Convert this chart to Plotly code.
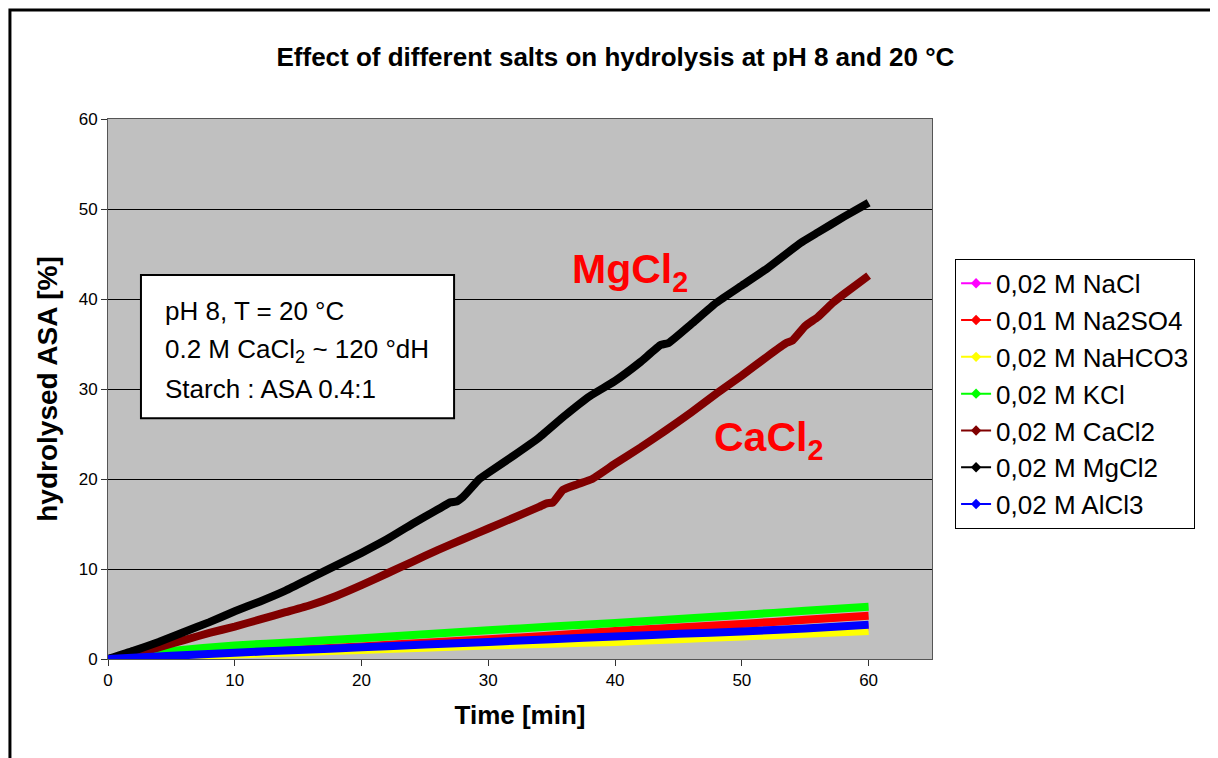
import plotly.graph_objects as go

FONT = "Liberation Sans, Arial, sans-serif"

# low series, read every 5 min
t_low = [0, 5, 10, 15, 20, 25, 30, 35, 40, 45, 50, 55, 60]
nacl = [0, 0.35, 0.7, 1.0, 1.3, 1.6, 1.9, 2.2, 2.5, 2.8, 3.0, 3.3, 3.6]
na2so4 = [0, 0.35, 0.7, 1.05, 1.4, 1.8, 2.2, 2.6, 3.1, 3.5, 3.9, 4.35, 4.8]
nahco3 = [0, 0.25, 0.5, 0.75, 1.0, 1.25, 1.5, 1.7, 1.9, 2.2, 2.5, 2.8, 3.1]
kcl = [0, 0.9, 1.5, 1.9, 2.3, 2.75, 3.2, 3.6, 4.0, 4.45, 4.9, 5.35, 5.8]
alcl3 = [0, 0.35, 0.7, 1.0, 1.3, 1.6, 1.9, 2.2, 2.5, 2.8, 3.05, 3.4, 3.8]

t_ca = [0, 2, 4, 6, 8, 10, 12, 14, 16, 18, 20, 22, 24, 26, 28, 30, 32, 34,
        34.6, 35.1, 35.9, 37, 38.2, 40, 42, 44, 46, 48, 50, 52, 53.5, 54,
        55, 56, 57.2, 58, 60]
cacl2 = [0, 0.5, 1.3, 2.1, 2.9, 3.6, 4.4, 5.2, 6.0, 7.0, 8.2, 9.5, 10.8, 12.1,
         13.3, 14.5, 15.7, 16.9, 17.3, 17.4, 18.8, 19.4, 20.0, 21.7, 23.5,
         25.4, 27.4, 29.5, 31.5, 33.6, 35.1, 35.4, 37.0, 38.0, 39.6, 40.5, 42.6]

t_mg = [0, 2, 4, 6, 8, 10, 12, 14, 16, 18, 20, 22, 24, 26, 27, 27.5, 28,
        29.3, 30, 32, 34, 36, 38, 40, 42, 43.6, 44.2, 46, 48, 50, 52, 54.6,
        56, 58, 60]
mgcl2 = [0, 0.9, 1.9, 3.0, 4.1, 5.3, 6.4, 7.6, 9.0, 10.4, 11.8, 13.3, 15.0,
         16.6, 17.4, 17.5, 18.0, 20.0, 20.7, 22.6, 24.6, 27.0, 29.2, 30.9,
         33.0, 34.9, 35.1, 37.2, 39.6, 41.5, 43.4, 46.2, 47.4, 49.1, 50.7]

names = ["0,02 M NaCl", "0,01 M Na2SO4", "0,02 M NaHCO3", "0,02 M KCl",
         "0,02 M CaCl2", "0,02 M MgCl2", "0,02 M AlCl3"]
colors = ["#FF00FF", "#FF0000", "#FFFF00", "#00FF00", "#800000", "#000000", "#0000FF"]
xs = [t_low, t_low, t_low, t_low, t_ca, t_mg, t_low]
ys = [nacl, na2so4, nahco3, kcl, cacl2, mgcl2, alcl3]

fig = go.Figure()
for x, y, c in zip(xs, ys, colors):
    fig.add_trace(go.Scatter(x=x, y=y, mode="lines", showlegend=False,
                             line=dict(color=c, width=8, shape="spline", smoothing=0.4),
                             hoverinfo="skip"))
# legend entries: thin line with diamond
for i, (n, c) in enumerate(zip(names, colors)):
    fig.add_trace(go.Scatter(x=[None], y=[None], mode="lines+markers", name=n,
                             legendgroup=str(i),
                             line=dict(color=c, width=2),
                             marker=dict(symbol="diamond", size=8, color=c)))

# page body has an 8px margin, so the figure is 8px smaller than the window
fig.update_layout(
    width=1210, height=750,
    margin=dict(l=100, r=286, t=111, b=99),
    paper_bgcolor="white", plot_bgcolor="#C0C0C0",
    font=dict(family=FONT, color="black"),
    title=dict(text="<b>Effect of different salts on hydrolysis at pH 8 and 20 °C</b>",
               xref="container", x=0.502, xanchor="center",
               yref="container", y=0.935, yanchor="middle",
               font=dict(size=26)),
    legend=dict(x=1.028, y=0.741, xanchor="left", yanchor="top",
                bgcolor="white", bordercolor="black", borderwidth=1,
                font=dict(size=26), tracegroupgap=0),
    showlegend=True,
)
fig.update_xaxes(range=[0, 65], tickvals=[0, 10, 20, 30, 40, 50, 60],
                 ticks="outside", ticklen=6, tickcolor="#333",
                 showgrid=False, zeroline=False,
                 showline=True, linecolor="#555", mirror=True,
                 tickfont=dict(size=17),
                 title=dict(text="<b>Time [min]</b>", font=dict(size=26), standoff=16))
fig.update_yaxes(range=[0, 60], tickvals=[0, 10, 20, 30, 40, 50, 60],
                 ticks="outside", ticklen=6, tickcolor="#333",
                 showgrid=True, gridcolor="black", gridwidth=1, zeroline=False,
                 showline=True, linecolor="#555", mirror=True,
                 tickfont=dict(size=17),
                 title=dict(text="<b>hydrolysed ASA [%]</b>", font=dict(size=28), standoff=12))

# info box
fig.add_shape(type="rect", xref="paper", yref="paper",
              x0=0.040, x1=0.420, y0=0.446, y1=0.711,
              line=dict(color="black", width=2), fillcolor="white")
box_lines = ["pH 8, T = 20 °C", "0.2 M CaCl<sub>2</sub> ~ 120 °dH", "Starch : ASA 0.4:1"]
for k, txt in enumerate(box_lines):
    fig.add_annotation(xref="paper", yref="paper", x=0.0667, y=0.644 - k * 0.072,
                       xanchor="left", yanchor="middle", showarrow=False,
                       text=txt, font=dict(size=26))

fig.add_annotation(xref="paper", yref="paper", x=0.633, y=0.717, showarrow=False,
                   xanchor="center", yanchor="middle",
                   text="<b>MgCl<sub>2</sub></b>", font=dict(size=41, color="#FF0000"))
fig.add_annotation(xref="paper", yref="paper", x=0.802, y=0.406, showarrow=False,
                   xanchor="center", yanchor="middle",
                   text="<b>CaCl<sub>2</sub></b>", font=dict(size=41, color="#FF0000"))

# outer frame
fig.add_shape(type="rect", xref="paper", yref="paper",
              x0=-0.119, x1=1.40, y0=-0.25, y1=1.202,
              line=dict(color="black", width=3), layer="below")

fig.write_html("out.html")
